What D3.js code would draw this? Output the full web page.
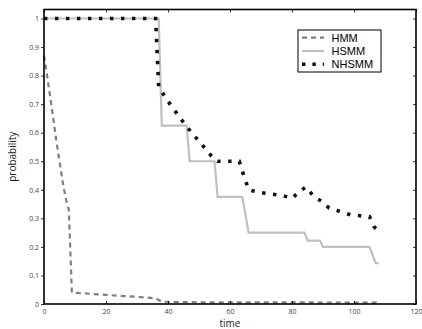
<!DOCTYPE html>
<html>
<head>
<meta charset="utf-8">
<script src="https://cdn.jsdelivr.net/npm/d3@7"></script>
<style>
  body { margin: 0; background: #fff; }
  svg { display: block; }
</style>
</head>
<body>
<figure id="chart" style="margin:0"></figure>
<script>
// values: [time, probability]
const hmm = [
  [0, 0.87], [1, 0.80], [2, 0.725], [3, 0.65], [4, 0.57], [5, 0.50],
  [6, 0.43], [7, 0.37], [8, 0.33], [9, 0.04], [20, 0.032], [30, 0.025],
  [36, 0.02], [38, 0.008], [50, 0.006], [108, 0.005]
];
const hsmm = [
  [0, 1], [37, 1], [38, 0.625], [46, 0.625], [47, 0.5], [55, 0.5],
  [56, 0.375], [64, 0.375], [66, 0.25], [84, 0.25], [85, 0.222],
  [89, 0.222], [90, 0.2], [105, 0.2], [107, 0.143], [108, 0.143]
];
const nhsmm = [
  [0, 1], [36, 1], [37, 0.76], [40, 0.71], [44, 0.65], [48, 0.595],
  [52, 0.545], [55, 0.505], [56, 0.5], [63, 0.5], [64, 0.465],
  [66, 0.40], [70, 0.39], [77, 0.38], [80, 0.37], [82, 0.39],
  [84.5, 0.41], [87, 0.377], [89.5, 0.36], [92, 0.336], [95, 0.326],
  [99, 0.312], [105, 0.306], [106.5, 0.27], [108, 0.255]
];
const xTicks = [0, 20, 40, 60, 80, 100, 120];
const yTicks = [0, 0.1, 0.2, 0.3, 0.4, 0.5, 0.6, 0.7, 0.8, 0.9, 1];
const seriesNames = ["HMM", "HSMM", "NHSMM"];

const width = 422, height = 329;
const mLeft = 44, mRight = 416, mTop = 9.5, mBottom = 304;

const svg = d3.select("#chart").append("svg")
  .attr("width", width)
  .attr("height", height);

const x = d3.scaleLinear().domain([0, 120]).range([mLeft, mRight]);
const y = d3.scaleLinear().domain([0, 1]).range([mBottom, 18.5]);

const styles = [
  { stroke: "#7f7f7f", width: 2.2, dash: "5,4" },
  { stroke: "#c0c0c0", width: 2.2, dash: null },
  { stroke: "#111", width: 3.6, dash: "3.4,7.6" }
];

// lines
const line = d3.line().x(d => x(d[0])).y(d => y(d[1]));
[hmm, hsmm, nhsmm].forEach((s, i) => {
  svg.append("path")
    .datum(s)
    .attr("d", line)
    .attr("fill", "none")
    .attr("stroke", styles[i].stroke)
    .attr("stroke-width", styles[i].width)
    .attr("stroke-dasharray", styles[i].dash);
});

// axes: left ticks outward, others inward
svg.append("g")
  .attr("transform", "translate(" + mLeft + ",0)")
  .call(d3.axisLeft(y).tickValues(yTicks).tickSize(3).tickPadding(2)
    .tickFormat(d => d === 0 || d === 1 ? d3.format("d")(d) : d3.format(".1f")(d)));
svg.append("g")
  .attr("transform", "translate(0," + mBottom + ")")
  .call(d3.axisBottom(x).tickValues(xTicks).tickSize(-3).tickPadding(5));
svg.append("g")
  .attr("transform", "translate(0," + mTop + ")")
  .call(d3.axisTop(x).tickValues(xTicks).tickSize(-3).tickFormat(""));
svg.append("g")
  .attr("transform", "translate(" + mRight + ",0)")
  .call(d3.axisRight(y).tickValues(yTicks).tickSize(-3).tickFormat(""));

svg.selectAll(".domain").remove();
svg.selectAll(".tick line").attr("stroke", "#000").attr("stroke-width", 0.8);
svg.selectAll(".tick text")
  .attr("font-family", "Open Sans, sans-serif")
  .attr("font-size", 7)
  .attr("fill", "#444");

// box
svg.append("rect")
  .attr("x", mLeft).attr("y", mTop)
  .attr("width", mRight - mLeft).attr("height", mBottom - mTop)
  .attr("fill", "none").attr("stroke", "#000").attr("stroke-width", 1.6);

// axis labels
svg.append("text")
  .attr("x", (mLeft + mRight) / 2).attr("y", 327)
  .attr("text-anchor", "middle")
  .attr("font-family", "Open Sans, sans-serif")
  .attr("font-size", 10).attr("fill", "#222")
  .text("time");
svg.append("text")
  .attr("transform", "translate(16," + ((mTop + mBottom) / 2) + ") rotate(-90)")
  .attr("text-anchor", "middle")
  .attr("font-family", "Open Sans, sans-serif")
  .attr("font-size", 10).attr("fill", "#222")
  .text("probability");

// legend
const lg = svg.append("g").attr("transform", "translate(298,30)");
lg.append("rect")
  .attr("width", 83).attr("height", 42)
  .attr("fill", "#fff").attr("stroke", "#000").attr("stroke-width", 1);
seriesNames.forEach((name, i) => {
  const yy = 7.7 + i * 13.3;
  lg.append("line")
    .attr("x1", 4).attr("x2", 26).attr("y1", yy).attr("y2", yy)
    .attr("stroke", styles[i].stroke)
    .attr("stroke-width", styles[i].width)
    .attr("stroke-dasharray", i === 2 ? "3.4,7" : styles[i].dash);
  lg.append("text")
    .attr("x", 33.5).attr("y", yy + 4)
    .attr("font-family", "Liberation Sans, Arial, sans-serif")
    .attr("font-size", 11).attr("fill", "#000")
    .text(name);
});
</script>
</body>
</html>
